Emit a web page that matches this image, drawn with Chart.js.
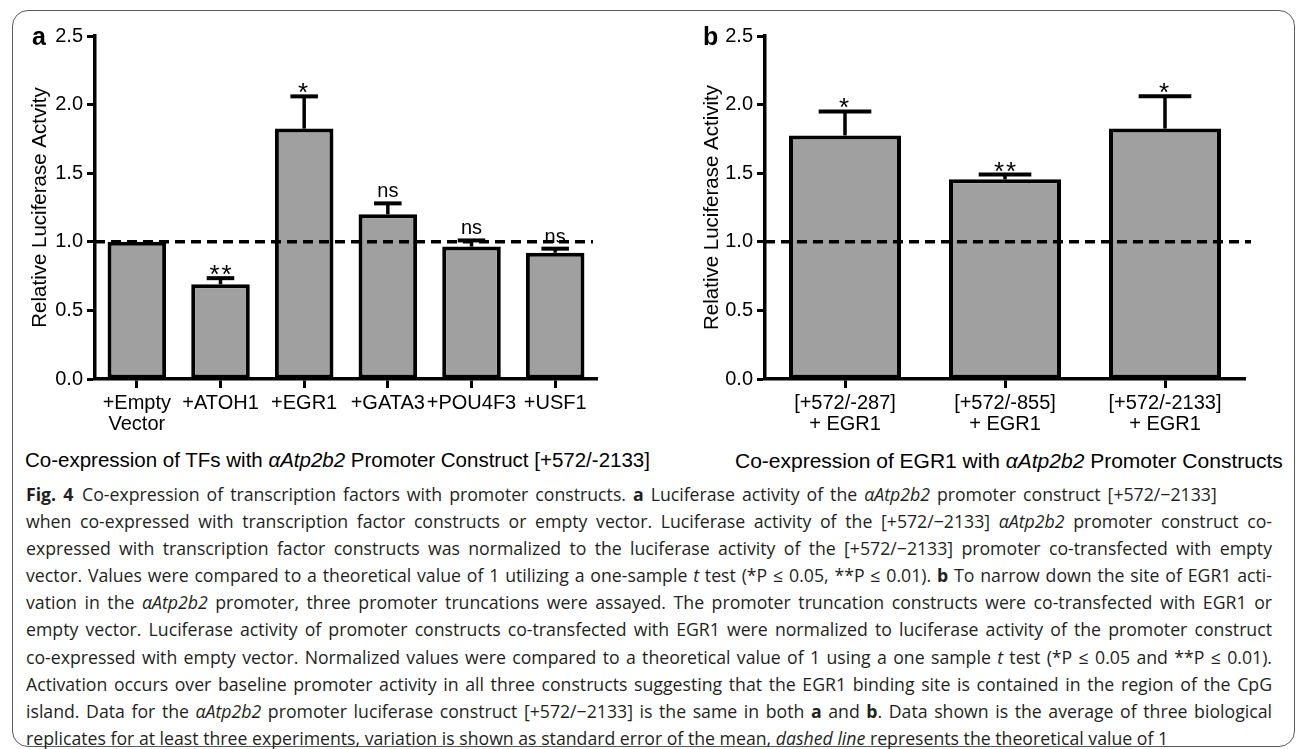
<!DOCTYPE html>
<html>
<head>
<meta charset="utf-8">
<script src="https://cdn.jsdelivr.net/npm/chart.js@4.4.1/dist/chart.umd.min.js"></script>
<style>
  html, body { margin: 0; padding: 0; background: #fff; }
  body { width: 1296px; height: 749px; position: relative; overflow: hidden; font-family: "Liberation Sans", Arial, sans-serif; color: #000; }
  .frame { position: absolute; left: 12px; top: 10px; width: 1281px; height: 735px; border: 1.5px solid #5a5a5a; border-radius: 16px; }
  canvas { position: absolute; top: 0; }
  .panel { position: absolute; font-weight: bold; font-size: 25px; line-height: 1; }
  .xcap { position: absolute; white-space: nowrap; line-height: 1; }
  .fig { position: absolute; left: 26px; top: 481px; width: 1246px; font-family: "Open Sans", sans-serif; font-size: 17.7px; color: #231f20; }
  .fig div { height: 27.1px; line-height: 27.1px; white-space: nowrap; }
</style>
</head>
<body>
<div class="frame"></div>
<canvas id="chartA" width="640" height="440" style="left:0px"></canvas>
<canvas id="chartB" width="656" height="440" style="left:640px"></canvas>
<div class="panel" style="left:32px; top:24px">a</div>
<div class="panel" style="left:703px; top:24px">b</div>
<div class="xcap" style="left:25px; top:450px; font-size:20.5px">Co-expression of TFs with <i>α</i><i>Atp2b2</i> Promoter Construct [+572/-2133]</div>
<div class="xcap" style="left:735px; top:450px; font-size:21px">Co-expression of EGR1 with <i>α</i><i>Atp2b2</i> Promoter Constructs</div>
<div class="fig">
  <div style="word-spacing:2.4px"><b>Fig. 4</b>&ensp;Co-expression of transcription factors with promoter constructs. <b>a</b> Luciferase activity of the <i>αAtp2b2</i> promoter construct [+572/−2133]</div>
  <div class="j">when co-expressed with transcription factor constructs or empty vector. Luciferase activity of the [+572/−2133] <i>αAtp2b2</i> promoter construct co-</div>
  <div class="j">expressed with transcription factor constructs was normalized to the luciferase activity of the [+572/−2133] promoter co-transfected with empty</div>
  <div class="j">vector. Values were compared to a theoretical value of 1 utilizing a one-sample <i>t</i> test (*P ≤ 0.05, **P ≤ 0.01). <b>b</b> To narrow down the site of EGR1 acti-</div>
  <div class="j">vation in the <i>αAtp2b2</i> promoter, three promoter truncations were assayed. The promoter truncation constructs were co-transfected with EGR1 or</div>
  <div class="j">empty vector. Luciferase activity of promoter constructs co-transfected with EGR1 were normalized to luciferase activity of the promoter construct</div>
  <div class="j">co-expressed with empty vector. Normalized values were compared to a theoretical value of 1 using a one sample <i>t</i> test (*P ≤ 0.05 and **P ≤ 0.01).</div>
  <div class="j">Activation occurs over baseline promoter activity in all three constructs suggesting that the EGR1 binding site is contained in the region of the CpG</div>
  <div class="j">island. Data for the <i>αAtp2b2</i> promoter luciferase construct [+572/−2133] is the same in both <b>a</b> and <b>b</b>. Data shown is the average of three biological</div>
  <div>replicates for at least three experiments, variation is shown as standard error of the mean, <i>dashed line</i> represents the theoretical value of 1</div>
</div>
<script>
// panel a: transcription factors co-expressed with [+572/-2133]
const tfLabels = [['+Empty', 'Vector'], '+ATOH1', '+EGR1', '+GATA3', '+POU4F3', '+USF1'];
const tfValues = [1.0, 0.69, 1.825, 1.20, 0.965, 0.92];
const tfErrors = [0, 0.045, 0.235, 0.08, 0.045, 0.03];
const tfSignif = ['', '**', '*', 'ns', 'ns', 'ns'];

// panel b: promoter truncations + EGR1
const constructLabels = [['[+572/-287]', '+ EGR1'], ['[+572/-855]', '+ EGR1'], ['[+572/-2133]', '+ EGR1']];
const constructValues = [1.775, 1.455, 1.825];
const constructErrors = [0.175, 0.035, 0.235];
const constructSignif = ['*', '**', '*'];

const yTicks = [0, 0.5, 1.0, 1.5, 2.0, 2.5];
const theoretical = 1;

Chart.defaults.font.family = '"Liberation Sans", Arial, sans-serif';
Chart.defaults.color = '#000';

const errorBars = {
  id: 'errorBars',
  afterDatasetsDraw(chart, args, opts) {
    const ctx = chart.ctx;
    const y = chart.scales.y;
    const area = chart.chartArea;
    const meta = chart.getDatasetMeta(0);
    const values = chart.data.datasets[0].data;

    // dashed reference line at the theoretical value
    ctx.save();
    ctx.strokeStyle = '#000';
    ctx.lineWidth = 3.5;
    ctx.setLineDash([10, 6]);
    ctx.beginPath();
    ctx.moveTo(area.left, y.getPixelForValue(theoretical));
    ctx.lineTo(area.right + opts.lineExtra, y.getPixelForValue(theoretical));
    ctx.stroke();
    ctx.restore();

    ctx.save();
    ctx.strokeStyle = '#000';
    ctx.fillStyle = '#000';
    meta.data.forEach((bar, i) => {
      const err = opts.errors[i];
      const top = y.getPixelForValue(values[i]);
      const hi = y.getPixelForValue(values[i] + err);
      const capW = bar.width * 0.47;
      if (err > 0) {
        ctx.lineWidth = 3.5;
        ctx.beginPath();
        ctx.moveTo(bar.x, top);
        ctx.lineTo(bar.x, hi);
        ctx.stroke();
        ctx.lineWidth = 4;
        ctx.beginPath();
        ctx.moveTo(bar.x - capW / 2, hi);
        ctx.lineTo(bar.x + capW / 2, hi);
        ctx.stroke();
      }
      const mark = opts.marks[i];
      if (!mark) return;
      ctx.textAlign = 'center';
      ctx.textBaseline = 'alphabetic';
      if (mark === 'ns') {
        ctx.font = '20px "Liberation Sans", Arial, sans-serif';
        ctx.letterSpacing = '0px';
        ctx.fillText(mark, bar.x, hi - 6);
      } else {
        ctx.font = '26px "Liberation Sans", Arial, sans-serif';
        ctx.letterSpacing = '2px';
        const m = ctx.measureText(mark);
        // sit the glyph bottom just above the cap
        ctx.fillText(mark, bar.x + (mark.length > 1 ? 1 : 0), hi - 3 - m.actualBoundingBoxDescent);
      }
    });
    ctx.restore();
  }
};

function makeChart(id, labels, values, errors, marks, yTitle, pad, yWidth, lineExtra) {
  return new Chart(document.getElementById(id), {
    type: 'bar',
    data: {
      labels: labels,
      datasets: [{
        data: values,
        backgroundColor: '#a0a0a0',
        borderColor: '#000',
        borderWidth: 4,
        borderSkipped: false,
        barPercentage: 0.7,
        categoryPercentage: 1.0
      }]
    },
    options: {
      responsive: false,
      animation: false,
      layout: { padding: pad },
      plugins: {
        legend: { display: false },
        tooltip: { enabled: false },
        errorBars: { errors: errors, marks: marks, lineExtra: lineExtra }
      },
      scales: {
        x: {
          grid: { display: true, drawOnChartArea: false, drawTicks: true, offset: false, tickLength: 9, tickWidth: 3, tickColor: '#000' },
          border: { display: true, color: '#000', width: 3.5 },
          ticks: { autoSkip: false, maxRotation: 0, minRotation: 0, padding: 5, font: { size: 20, lineHeight: 1.05 }, color: '#000' },
          afterFit: s => { s.height = 61; }
        },
        y: {
          min: 0,
          max: 2.5,
          afterBuildTicks: s => { s.ticks = yTicks.map(v => ({ value: v })); },
          grid: { display: true, drawOnChartArea: false, drawTicks: true, tickLength: 8, tickWidth: 3, tickColor: '#000' },
          border: { display: true, color: '#000', width: 3.5 },
          ticks: { padding: 4, font: { size: 20 }, color: '#000', callback: v => v.toFixed(1) },
          title: { display: true, text: yTitle, font: { size: 20.5 }, color: '#000', padding: 0 },
          afterFit: s => { s.width = yWidth; }
        }
      }
    },
    plugins: [errorBars]
  });
}

makeChart('chartA', tfLabels, tfValues, tfErrors, tfSignif, 'Relative Luciferase Actvity',
  { left: 28, right: 43, top: 36, bottom: 0 }, 67, -4);
makeChart('chartB', constructLabels, constructValues, constructErrors, constructSignif, 'Relative Luciferase Activity',
  { left: 60, right: 51, top: 36, bottom: 0 }, 65, 6);

// justify the caption lines by spreading the word spaces
document.querySelectorAll('.fig .j').forEach(line => {
  const target = line.clientWidth;
  const probe = document.createElement('span');
  probe.innerHTML = line.innerHTML;
  line.innerHTML = '';
  line.appendChild(probe);
  const natural = probe.getBoundingClientRect().width;
  const gaps = (probe.textContent.match(/ /g) || []).length;
  if (gaps) line.style.wordSpacing = ((target - natural) / gaps) + 'px';
});
</script>
</body>
</html>
